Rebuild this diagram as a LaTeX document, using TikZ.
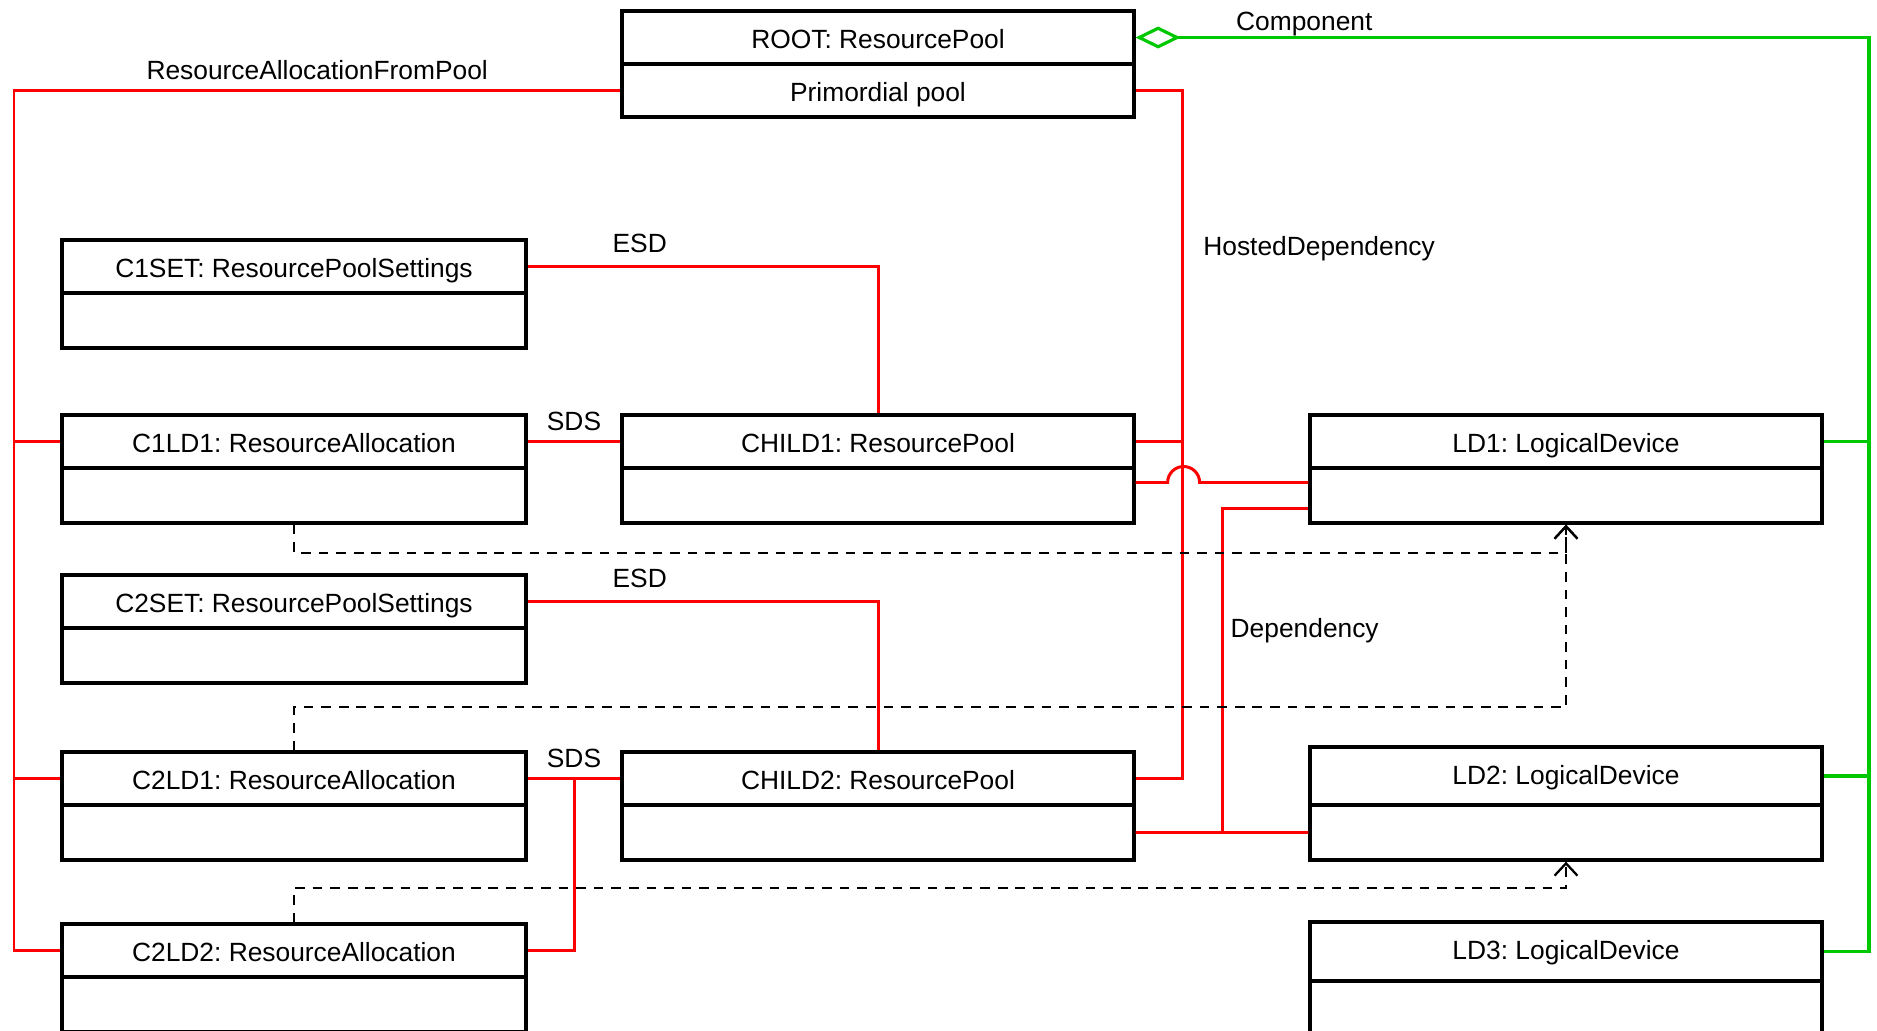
\documentclass[tikz,border=0pt]{standalone}
\usepackage{fontspec}
\setmainfont{Liberation Sans}
\frenchspacing
\usepackage{tikz}
\usetikzlibrary{calc,positioning,arrows.meta}
\definecolor{compgreen}{RGB}{0,200,0}
\tikzset{
objtitle/.style={
  draw,
  line width=1.9pt,
  inner sep=0pt,
  text height=12.8pt,
  text depth=0pt,
  align=center
  },
objbody/.style={
  objtitle,
  minimum height=1.1cm
  },
lbl/.style={inner sep=5.6pt, text depth=0pt},
assoc/.style={draw=red, line width=1.7pt},
compline/.style={draw=compgreen, line width=1.8pt},
depline/.style={
  draw,
  line width=1.3pt,
  dash pattern=on 5.5pt off 4.5pt,
  -{Straight Barb[length=7pt,width=13pt]}
  }
}

\begin{document}
\begin{tikzpicture}[x=0.02cm,y=-0.02cm,font=\fontsize{15}{18}\selectfont]
  \useasboundingbox (0,0) rectangle (1877,1031);
  \node[objtitle,minimum width=10.24cm,minimum height=1.06cm] (root) at (878,37.5) {ROOT: ResourcePool};
  \node[objbody,minimum width=10.24cm,minimum height=1.06cm,below=-1.9pt of root] (root-body) {Primordial pool};
  \foreach \nm/\xx/\yy/\ww/\hh/\tht/\ttl in {
      c1set/294/266.5/9.28cm/1.06cm/12.8pt/C1SET: ResourcePoolSettings,
      c1ld1/294/441.5/9.28cm/1.06cm/12.8pt/C1LD1: ResourceAllocation,
      child1/878/441.5/10.24cm/1.06cm/12.8pt/CHILD1: ResourcePool,
      ld1/1566/441.5/10.24cm/1.06cm/12.8pt/LD1: LogicalDevice,
      c2set/294/601.5/9.28cm/1.06cm/12.8pt/C2SET: ResourcePoolSettings,
      c2ld1/294/778.5/9.28cm/1.06cm/12.8pt/C2LD1: ResourceAllocation,
      child2/878/778.5/10.24cm/1.06cm/12.8pt/CHILD2: ResourcePool,
      ld2/1566/776/10.24cm/1.16cm/9.4pt/LD2: LogicalDevice,
      c2ld2/294/950.5/9.28cm/1.06cm/12.8pt/C2LD2: ResourceAllocation,
      ld3/1566/951.5/10.24cm/1.18cm/9.4pt/LD3: LogicalDevice}{
    \node[objtitle,minimum width=\ww,minimum height=\hh,text height=\tht] (\nm) at (\xx,\yy) {\ttl};
    \node[objbody,minimum width=\ww,below=-1.9pt of \nm] (\nm-body) {};
  }

  \coordinate (busL) at (14,0);
  \coordinate (busH) at (1182,0);
  \coordinate (busG) at (1869,0);

  % allocation from the primordial pool
  \draw[assoc] (root-body.west) -- node[lbl,above]{ResourceAllocationFromPool} (root-body.west -| busL) |- (c2ld2.west);
  \draw[assoc] (c1ld1) -- (c1ld1 -| busL);
  \draw[assoc] (c2ld1) -- (c2ld1 -| busL);

  \draw[assoc] (root-body.east) -- (root-body.east -| busH) |- node[lbl,pos=.113,right=2mm]{HostedDependency} (child2.east);
  \draw[assoc] (child1) -- (child1 -| busH);

  \draw[assoc] (c1set) -| node[lbl,pos=.16,above=1.7pt]{ESD} (child1);
  \draw[assoc] (c2set) -| node[lbl,pos=.16,above=1.7pt]{ESD} (child2);
  \draw[assoc] (c1ld1) -- node[lbl,above]{SDS} (child1);
  \draw[assoc] (c2ld1) -- node[lbl,above]{SDS} (child2);
  \draw[assoc] (c2ld2) -| ($(c2ld1.east)!.5!(child2.west)$);

  % dependencies of the logical devices
  \coordinate (depj) at ($(child2-body.east)!.5!(ld2-body.west)$);
  \draw[assoc] ([yshift=.26cm]child1-body.east) -- ++(32,0) arc[start angle=180,end angle=0,radius=0.32cm] -- ([yshift=.26cm]ld1-body.west);
  \draw[assoc] (child2-body) -- (ld2-body);
  \draw[assoc] ([yshift=-.26cm]ld1-body.west) -| node[lbl,pos=.684,right=-1.5pt]{Dependency} (depj);

  \draw[compline,{Diamond[open,length=0.9cm,width=0.44cm]}-] (root) -- node[lbl,pos=.23,above=-2.5pt]{Component} (root -| busG) |- (ld3);
  \draw[compline] (ld1) -- (ld1 -| busG);
  \draw[compline] (ld2) -- (ld2 -| busG);

  \draw[depline] (c1ld1-body.south) -- ++(0,28) -| (ld1-body.south);
  \draw[depline] (c2ld1.north) -- ++(0,-43) -| (ld1-body.south);
  \draw[depline] (c2ld2.north) -- ++(0,-34) -| (ld2-body.south);
\end{tikzpicture}
\end{document}
